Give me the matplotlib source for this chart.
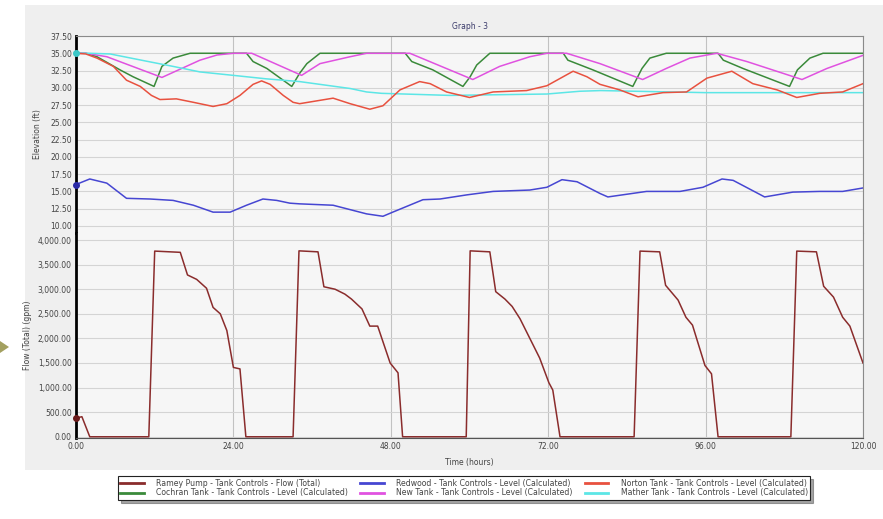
import numpy as np
import matplotlib.pyplot as plt
from matplotlib.patches import Rectangle, Polygon

# ---- data (time in hours) ----
ramey_t = [0, 0.9, 2.1, 11.1, 12.0, 15.9, 17.0, 18.4, 19.9, 20.9, 22.0, 23.0, 24.0, 25.0, 25.9,
           33.1, 34.0, 36.9, 37.8, 39.5, 41.0, 42.0, 43.6, 44.8, 46.0, 47.9, 49.1, 49.8,
           59.5, 60.1, 63.1, 64.0, 65.4, 66.5, 67.7, 69.2, 70.7, 72.1, 72.7, 73.8,
           85.1, 86.0, 89.0, 89.9, 91.8, 93.0, 94.0, 95.9, 96.9, 97.9,
           109.0, 109.9, 112.9, 114.0, 115.5, 116.9, 118.0, 120.0]
ramey_q = [380, 408, 0, 0, 3775, 3750, 3290, 3200, 3020, 2630, 2500, 2160, 1410, 1380, 0,
           0, 3780, 3760, 3050, 3000, 2900, 2800, 2600, 2250, 2250, 1500, 1300, 0,
           0, 3780, 3760, 2950, 2800, 2650, 2400, 2000, 1600, 1100, 950, 0,
           0, 3775, 3760, 3080, 2780, 2430, 2270, 1450, 1280, 0,
           0, 3775, 3760, 3060, 2840, 2430, 2250, 1500]

redwood_t = [0, 2.1, 4.7, 7.7, 11.3, 14.8, 17.9, 20.9, 23.5, 26.0, 28.5, 30.6, 32.6, 34.1,
             39.2, 44.3, 46.8, 48.3, 52.9, 55.5, 59.6, 63.6, 69.2, 71.8, 74.1, 76.4, 79.9,
             81.1, 87.0, 92.1, 95.6, 98.5, 100.2, 105.0, 109.3, 113.4, 116.9, 120.0]
redwood_h = [16.0, 16.8, 16.2, 14.0, 13.9, 13.7, 13.0, 12.0, 12.0, 13.0, 13.9, 13.7, 13.3, 13.2,
             13.0, 11.75, 11.4, 12.0, 13.8, 13.9, 14.5, 15.0, 15.2, 15.6, 16.7, 16.4, 14.7,
             14.2, 15.0, 15.0, 15.6, 16.8, 16.6, 14.2, 14.9, 15.0, 15.0, 15.5]

norton_t = [0, 1.5, 3.2, 5.7, 7.7, 9.8, 11.5, 12.8, 15.3, 17.9, 20.9, 23.0, 25.0, 27.0, 28.3,
            29.6, 31.6, 33.1, 34.1, 39.2, 41.8, 44.8, 46.8, 49.4, 52.4, 54.0, 56.5, 60.0,
            63.6, 68.7, 71.8, 75.8, 77.9, 79.9, 82.9, 85.7, 89.5, 93.1, 96.2, 100.0,
            103.2, 106.9, 109.9, 113.4, 116.9, 120.0]
norton_h = [35.0, 34.9, 34.3, 33.1, 31.1, 30.2, 28.9, 28.3, 28.4, 27.9, 27.3, 27.7, 28.9, 30.5, 31.0,
            30.5, 28.9, 27.9, 27.7, 28.5, 27.7, 26.9, 27.4, 29.7, 30.9, 30.6, 29.4, 28.6,
            29.4, 29.6, 30.3, 32.4, 31.6, 30.5, 29.7, 28.7, 29.3, 29.4, 31.4, 32.4,
            30.6, 29.7, 28.6, 29.2, 29.4, 30.6]

cochran_t = [0, 1.5, 3.2, 6.7, 8.7, 11.9, 13.1, 14.8, 17.4, 26.0, 27.0, 29.1, 32.9, 34.1, 35.2,
             37.2, 50.2, 51.2, 54.4, 59.0, 60.1, 61.1, 63.1, 74.3, 75.0, 78.8, 84.9, 86.3,
             87.5, 90.0, 97.9, 98.7, 101.7, 108.8, 110.0, 111.9, 113.9, 120.0]
cochran_h = [35.0, 35.0, 34.5, 32.6, 31.6, 30.2, 33.1, 34.3, 35.0, 35.0, 33.8, 32.8, 30.2, 32.1, 33.5,
             35.0, 35.0, 33.8, 32.6, 30.2, 31.6, 33.3, 35.0, 35.0, 34.0, 32.6, 30.2, 32.8,
             34.3, 35.0, 35.0, 34.0, 32.8, 30.2, 32.6, 34.3, 35.0, 35.0]

new_t = [0, 1.5, 4.7, 13.1, 18.9, 21.5, 24.0, 26.8, 34.4, 37.2, 41.8, 44.3, 50.9, 60.5, 64.6,
         69.2, 71.8, 74.8, 79.9, 86.4, 90.0, 93.6, 97.7, 102.3, 110.7, 114.5, 120.0]
new_h = [35.0, 35.0, 34.5, 31.5, 34.0, 34.75, 35.0, 35.0, 31.8, 33.5, 34.5, 35.0, 35.0, 31.2, 33.1,
         34.5, 35.0, 35.0, 33.5, 31.2, 32.8, 34.3, 35.0, 33.8, 31.2, 32.8, 34.7]

mather_t = [0, 2.0, 5.2, 10.5, 14.8, 18.9, 24.0, 29.0, 34.1, 41.8, 44.3, 46.6, 57.0, 71.8,
            76.8, 80.0, 96.0, 120.0]
mather_h = [35.0, 35.0, 34.9, 33.9, 33.1, 32.3, 31.8, 31.3, 30.9, 29.9, 29.4, 29.2, 28.9, 29.1,
            29.5, 29.6, 29.3, 29.3]

elev_ticks = [10, 12.5, 15, 17.5, 20, 22.5, 25, 27.5, 30, 32.5, 35, 37.5]
flow_ticks = [0, 500, 1000, 1500, 2000, 2500, 3000, 3500, 4000]
time_ticks = [0, 24, 48, 72, 96, 120]

c_ramey, c_redwood, c_norton = '#8a2c2c', '#4646d2', '#e8513f'
c_cochran, c_new, c_mather = '#3a8a3a', '#e052e0', '#5ce6e6'

W, H = 883, 519
fig = plt.figure(figsize=(W / 100, H / 100), dpi=100, facecolor='white')

# grey panel behind the chart
fig.patches.append(Rectangle((25 / W, 1 - 470 / H), 858 / W, 465 / H, transform=fig.transFigure,
                             facecolor='#efefef', edgecolor='none', zorder=-10))
# slide arrow at left edge
fig.patches.append(Polygon([[0, 1 - 341 / H], [9 / W, 1 - 347 / H], [0, 1 - 353 / H]], closed=True,
                           transform=fig.transFigure, facecolor='#a3a060', edgecolor='none', zorder=-5))

L, R = 76 / W, 863 / W
top = fig.add_axes([L, 1 - 233 / H, R - L, (233 - 36) / H])
bot = fig.add_axes([L, 1 - 438 / H, R - L, (438 - 233) / H], sharex=top)

for ax in (top, bot):
    ax.set_facecolor('#f6f6f6')
    ax.set_xlim(0, 120)
    ax.set_xticks(time_ticks)
    ax.grid(axis='y', color='#d4d4d4', lw=0.8)
    ax.grid(axis='x', color='#c2c2c2', lw=0.8)
    ax.tick_params(length=0, labelsize=5.5, colors='#444444', pad=3)
    for s in ('top', 'right'):
        ax.spines[s].set_color('#8a8a8a')
    ax.spines['left'].set_linewidth(2)
    ax.spines['left'].set_color('black')
    ax.set_axisbelow(True)

top.spines['bottom'].set_visible(False)
bot.spines['top'].set_visible(False)
bot.spines['bottom'].set_color('#555555')

top.set_ylim(8.98, 37.5)
top.set_yticks(elev_ticks)
top.set_yticklabels([f'{v:.2f}' for v in elev_ticks])
top.tick_params(axis='x', labelbottom=False)

bot.set_ylim(-25, 4143)
bot.set_yticks(flow_ticks)
bot.set_yticklabels([f'{v:,.2f}' for v in flow_ticks])
bot.set_xticklabels([f'{v:.2f}' for v in time_ticks])

lw = 1.1
h_ramey, = bot.plot(ramey_t, ramey_q, color=c_ramey, lw=lw, label='Ramey Pump - Tank Controls - Flow (Total)')
h_cochran, = top.plot(cochran_t, cochran_h, color=c_cochran, lw=lw, label='Cochran Tank - Tank Controls - Level (Calculated)')
h_new, = top.plot(new_t, new_h, color=c_new, lw=lw, label='New Tank - Tank Controls - Level (Calculated)')
h_mather, = top.plot(mather_t, mather_h, color=c_mather, lw=lw, label='Mather Tank - Tank Controls - Level (Calculated)')
h_norton, = top.plot(norton_t, norton_h, color=c_norton, lw=lw, label='Norton Tank - Tank Controls - Level (Calculated)')
h_redwood, = top.plot(redwood_t, redwood_h, color=c_redwood, lw=lw, label='Redwood - Tank Controls - Level (Calculated)')

# start markers
top.plot(mather_t[0], mather_h[0], 'o', color='#3cc8c8', ms=4, clip_on=False, zorder=5)
top.plot(redwood_t[0], redwood_h[0], 'o', color='#2a2aa8', ms=4, clip_on=False, zorder=5)
bot.plot(ramey_t[0], ramey_q[0], 'o', color='#6a1a1a', ms=4, clip_on=False, zorder=5)

top.set_ylabel('Elevation (ft)', fontsize=5.5, color='#444444', labelpad=6)
bot.set_ylabel('Flow (Total) (gpm)', fontsize=5.5, color='#444444', labelpad=4)
bot.set_xlabel('Time (hours)', fontsize=5.5, color='#444444', labelpad=5)
top.set_title('Graph - 3', fontsize=5.5, color='#3a3a6a', pad=5)

handles = [h_ramey, h_cochran, h_redwood, h_new, h_norton, h_mather]
leg = fig.legend(handles=handles, loc='center', bbox_to_anchor=(464 / W, 1 - 488 / H), ncol=3,
                 fontsize=5.6, frameon=True, fancybox=False, shadow=True, handlelength=3.0,
                 columnspacing=1.6, borderpad=0.3, labelspacing=0.1, handletextpad=1.6)
leg.get_frame().set_edgecolor('#222222')
leg.get_frame().set_linewidth(0.8)
for t in leg.get_texts():
    t.set_color('#444444')
for line in leg.get_lines():
    line.set_linewidth(2)

fig.savefig('out.png', dpi=100, facecolor=fig.get_facecolor())
